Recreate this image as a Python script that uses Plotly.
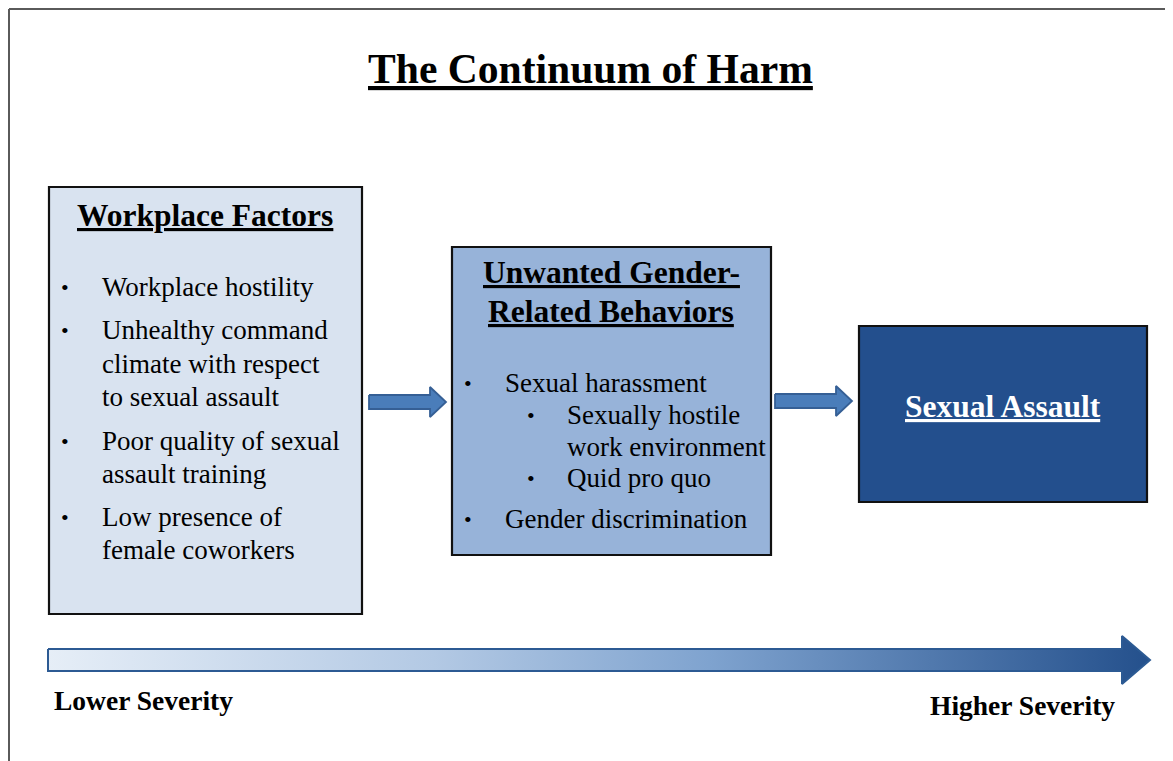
import plotly.graph_objects as go

# ---------------- content ----------------
title_text = "The Continuum of Harm"
box_titles = ["Workplace Factors", "Unwanted Gender-<br>Related Behaviors", "Sexual Assault"]
workplace_lines = [
    ["Workplace hostility"],
    ["Unhealthy command", "climate with respect", "to sexual assault"],
    ["Poor quality of sexual", "assault training"],
    ["Low presence of", "female coworkers"],
]
behavior_main = ["Sexual harassment", "Gender discrimination"]
behavior_sub = [["Sexually hostile", "work environment"], ["Quid pro quo"]]
scale_labels = ["Lower Severity", "Higher Severity"]

# ---------------- layout geometry (pixel space) ----------------
W, H = 1173, 761
OFF = 8  # default page body margin
SERIF = "Liberation Serif, Times New Roman, serif"
boxes = [  # x0, y0, x1, y1, fill
    (49, 187, 362, 614, "#d9e3f0"),
    (452, 247, 771, 555, "#97b3d9"),
    (859, 326, 1147, 502, "#234f8d"),
]

fig = go.Figure()
shapes = []
ann = []

# outer frame (left and top edges visible)
shapes.append(dict(type="line", xref="x", yref="y", x0=9, y0=9, x1=9, y1=H + OFF,
                   line=dict(color="#5a5a5a", width=2)))
shapes.append(dict(type="line", xref="x", yref="y", x0=9, y0=9, x1=W + OFF, y1=9,
                   line=dict(color="#5a5a5a", width=2)))

for (x0, y0, x1, y1, fc) in boxes:
    shapes.append(dict(type="rect", xref="x", yref="y", x0=x0, y0=y0, x1=x1, y1=y1,
                       line=dict(color="#111111", width=2.2), fillcolor=fc, layer="below"))

# small connecting arrows
def block_arrow(x0, x1, yc, body_h, head_h, head_len):
    xs = [x0, x1 - head_len, x1 - head_len, x1, x1 - head_len, x1 - head_len, x0, x0]
    ys = [yc - body_h / 2, yc - body_h / 2, yc - head_h / 2, yc, yc + head_h / 2, yc + body_h / 2,
          yc + body_h / 2, yc - body_h / 2]
    return xs, ys

for (ax0, ax1, ayc) in [(369, 446, 402), (775, 852, 401)]:
    xs, ys = block_arrow(ax0, ax1, ayc, 14, 30, 16)
    fig.add_trace(go.Scatter(x=xs, y=ys, mode="lines", fill="toself",
                             fillcolor="#4a7dba", line=dict(color="#355f95", width=1.8),
                             hoverinfo="skip", showlegend=False))

# severity arrow with gradient
xs, ys = block_arrow(48, 1150, 660, 22, 48, 28)
fig.add_trace(go.Scatter(x=xs, y=ys, mode="lines", fill="toself",
                         fillgradient=dict(type="horizontal",
                                           colorscale=[[0, "#e6eef7"], [0.35, "#b3c9e4"],
                                                       [0.6, "#7fa3cf"], [1, "#24508c"]]),
                         line=dict(color="#2c5a93", width=2),
                         hoverinfo="skip", showlegend=False))

def txt(x, y, s, size, xanchor="left", color="black"):
    ann.append(dict(x=x, y=y, xref="x", yref="y", text=s, showarrow=False,
                    xanchor=xanchor, yanchor="middle",
                    font=dict(family=SERIF, size=size, color=color)))

BODY = 27
HEAD = 31.5
BUL = 22

# title
txt(590, 69, "<b><u>" + title_text + "</u></b>", 41.6, xanchor="center")

# box 1
txt(205, 215, "<b><u>" + box_titles[0] + "</u></b>", HEAD, xanchor="center")
y_rows = [[287], [330, 364, 397], [441, 474], [517, 550]]
for lines, ys_ in zip(workplace_lines, y_rows):
    txt(65, ys_[0], "•", BUL, xanchor="center")
    for line, yy in zip(lines, ys_):
        txt(100, yy, line, BODY)

# box 2
t1, t2 = box_titles[1].split("<br>")
txt(611, 272, "<b><u>" + t1 + "</u></b>", HEAD, xanchor="center")
txt(611, 311, "<b><u>" + t2 + "</u></b>", HEAD, xanchor="center")
txt(468, 383, "•", BUL, xanchor="center")
txt(503, 383, behavior_main[0], BODY)
sub_rows = [[415, 447], [478]]
for lines, ys_ in zip(behavior_sub, sub_rows):
    txt(531, ys_[0], "•", BUL, xanchor="center")
    for line, yy in zip(lines, ys_):
        txt(565, yy, line, BODY)
txt(468, 519, "•", BUL, xanchor="center")
txt(503, 519, behavior_main[1], BODY)

# box 3
txt(1003, 406, "<b><u>" + box_titles[2] + "</u></b>", HEAD, xanchor="center", color="white")

# severity labels
txt(52, 700, "<b>" + scale_labels[0] + "</b>", 27.5)
txt(1117, 705, "<b>" + scale_labels[1] + "</b>", 27.5, xanchor="right")

fig.update_layout(
    width=W, height=H, margin=dict(l=0, r=0, t=0, b=0),
    paper_bgcolor="white", plot_bgcolor="white",
    xaxis=dict(range=[OFF, W + OFF], visible=False, fixedrange=True),
    yaxis=dict(range=[H + OFF, OFF], visible=False, fixedrange=True),
    shapes=shapes, annotations=ann, showlegend=False,
)
fig.write_html("out.html")
